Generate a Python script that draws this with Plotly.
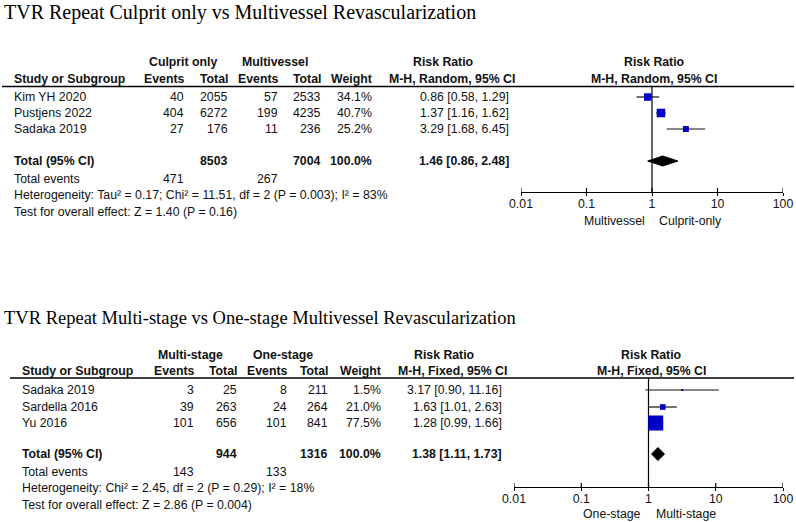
import math
import plotly.graph_objects as go

W, H = 796, 522

# ---------------- data: panel 1 ----------------
P1_TITLE = "TVR Repeat Culprit only vs Multivessel Revascularization"
P1_GROUPS = ["Culprit only", "Multivessel"]
P1_STUDIES = ["Kim YH 2020", "Pustjens 2022", "Sadaka 2019"]
P1_EV1 = [40, 404, 27]
P1_TOT1 = [2055, 6272, 176]
P1_EV2 = [57, 199, 11]
P1_TOT2 = [2533, 4235, 236]
P1_WEIGHT = [34.1, 40.7, 25.2]
P1_RR = [0.86, 1.37, 3.29]
P1_LO = [0.58, 1.16, 1.68]
P1_HI = [1.29, 1.62, 6.45]
P1_TOTAL_N = [8503, 7004]
P1_TOTAL_EVENTS = [471, 267]
P1_POOLED = [1.46, 0.86, 2.48]
P1_METHOD = "M-H, Random, 95% CI"
P1_HET = "Heterogeneity: Tau² = 0.17; Chi² = 11.51, df = 2 (P = 0.003); I² = 83%"
P1_TEST = "Test for overall effect: Z = 1.40 (P = 0.16)"
P1_FAVOURS = ["Multivessel", "Culprit-only"]

# ---------------- data: panel 2 ----------------
P2_TITLE = "TVR Repeat Multi-stage vs One-stage Multivessel Revascularization"
P2_GROUPS = ["Multi-stage", "One-stage"]
P2_STUDIES = ["Sadaka 2019", "Sardella 2016", "Yu 2016"]
P2_EV1 = [3, 39, 101]
P2_TOT1 = [25, 263, 656]
P2_EV2 = [8, 24, 101]
P2_TOT2 = [211, 264, 841]
P2_WEIGHT = [1.5, 21.0, 77.5]
P2_RR = [3.17, 1.63, 1.28]
P2_LO = [0.90, 1.01, 0.99]
P2_HI = [11.16, 2.63, 1.66]
P2_TOTAL_N = [944, 1316]
P2_TOTAL_EVENTS = [143, 133]
P2_POOLED = [1.38, 1.11, 1.73]
P2_METHOD = "M-H, Fixed, 95% CI"
P2_HET = "Heterogeneity: Chi² = 2.45, df = 2 (P = 0.29); I² = 18%"
P2_TEST = "Test for overall effect: Z = 2.86 (P = 0.004)"
P2_FAVOURS = ["One-stage", "Multi-stage"]

TICKS = [0.01, 0.1, 1, 10, 100]
TICK_LABELS = ["0.01", "0.1", "1", "10", "100"]

# ---------------- layout (pixel positions / styles) ----------------
SANS = "Liberation Sans, Arial, sans-serif"
SERIF = "Liberation Serif, Times New Roman, serif"
BLUE = "#0000C8"
FS = 12.3

LAYOUTS = [
    dict(title_y=12, title_fs=20, h1=62, h2=79, rule=86.5, rule_x=(2, 794), rows=[97, 113, 129],
         total=161, events=179, het=195, test=212, axis_y=192, fav_y=221,
         name=12.7, ev1=185, tot1=229, ev2=279, tot2=322, w=373, rr=510, mh=516,
         g1=183, g2=275, rrh=443, fh=654, dom=(521, 783), box=0.53, dia=5,
         fav_dx=(-6, 6)),
    dict(title_y=318, title_fs=18.5, h1=355, h2=371, rule=378, rule_x=(10, 794), rows=[390, 407, 423],
         total=454, events=472, het=488, test=505, axis_y=487, fav_y=514,
         name=21, ev1=195, tot1=238, ev2=288, tot2=329, w=382, rr=503, mh=508,
         g1=190, g2=283, rrh=444, fh=651, dom=(514, 783), box=0.575, dia=6.5,
         fav_dx=(-7, 6)),
]

PANELS = [
    dict(title=P1_TITLE, groups=P1_GROUPS, studies=P1_STUDIES, ev1=P1_EV1, tot1=P1_TOT1,
         ev2=P1_EV2, tot2=P1_TOT2, weight=P1_WEIGHT, rr=P1_RR, lo=P1_LO, hi=P1_HI,
         total_n=P1_TOTAL_N, total_events=P1_TOTAL_EVENTS, pooled=P1_POOLED,
         method=P1_METHOD, het=P1_HET, test=P1_TEST, favours=P1_FAVOURS),
    dict(title=P2_TITLE, groups=P2_GROUPS, studies=P2_STUDIES, ev1=P2_EV1, tot1=P2_TOT1,
         ev2=P2_EV2, tot2=P2_TOT2, weight=P2_WEIGHT, rr=P2_RR, lo=P2_LO, hi=P2_HI,
         total_n=P2_TOTAL_N, total_events=P2_TOTAL_EVENTS, pooled=P2_POOLED,
         method=P2_METHOD, het=P2_HET, test=P2_TEST, favours=P2_FAVOURS),
]

fig = go.Figure()
annotations = []
shapes = []


def ann(text, x, y, anchor="left", size=FS, bold=False, font=SANS, color="#111111"):
    if bold:
        text = "<b>" + text + "</b>"
    annotations.append(dict(
        text=text, x=x / W, y=y, xref="paper", yref="y",
        xanchor=anchor, yanchor="middle", showarrow=False, borderpad=0,
        font=dict(family=font, size=size, color=color)))


def ci_text(est, lo, hi):
    return f"{est:.2f} [{lo:.2f}, {hi:.2f}]"


for i, (P, L) in enumerate(zip(PANELS, LAYOUTS)):
    xa = "x" if i == 0 else "x2"
    # title
    ann(P["title"], 3, L["title_y"], size=L["title_fs"], font=SERIF, color="black")
    # header row 1
    ann(P["groups"][0], L["g1"], L["h1"], "center", bold=True)
    ann(P["groups"][1], L["g2"], L["h1"], "center", bold=True)
    ann("Risk Ratio", L["rrh"], L["h1"], "center", bold=True)
    ann("Risk Ratio", L["fh"], L["h1"], "center", bold=True)
    # header row 2
    ann("Study or Subgroup", L["name"], L["h2"], "left", bold=True)
    ann("Events", L["ev1"], L["h2"], "right", bold=True)
    ann("Total", L["tot1"], L["h2"], "right", bold=True)
    ann("Events", L["ev2"], L["h2"], "right", bold=True)
    ann("Total", L["tot2"], L["h2"], "right", bold=True)
    ann("Weight", L["w"], L["h2"], "right", bold=True)
    ann(P["method"], L["mh"], L["h2"], "right", bold=True)
    ann(P["method"], L["fh"], L["h2"], "center", bold=True)
    # rule
    shapes.append(dict(type="line", xref="paper", yref="y",
                       x0=L["rule_x"][0] / W, x1=L["rule_x"][1] / W,
                       y0=L["rule"], y1=L["rule"], line=dict(color="black", width=1.5)))
    # study rows
    for j, s in enumerate(P["studies"]):
        y = L["rows"][j]
        ann(s, L["name"], y)
        ann(str(P["ev1"][j]), L["ev1"], y, "right")
        ann(str(P["tot1"][j]), L["tot1"], y, "right")
        ann(str(P["ev2"][j]), L["ev2"], y, "right")
        ann(str(P["tot2"][j]), L["tot2"], y, "right")
        ann(f"{P['weight'][j]:.1f}%", L["w"], y, "right")
        ann(ci_text(P["rr"][j], P["lo"][j], P["hi"][j]), L["rr"], y, "right")
    # totals
    ann("Total (95% CI)", L["name"], L["total"], bold=True)
    ann(str(P["total_n"][0]), L["tot1"], L["total"], "right", bold=True)
    ann(str(P["total_n"][1]), L["tot2"], L["total"], "right", bold=True)
    ann(f"{sum(P['weight']):.1f}%", L["w"], L["total"], "right", bold=True)
    ann(ci_text(*P["pooled"]), L["rr"], L["total"], "right", bold=True)
    ann("Total events", L["name"], L["events"])
    ann(str(P["total_events"][0]), L["ev1"], L["events"], "right")
    ann(str(P["total_events"][1]), L["ev2"], L["events"], "right")
    ann(P["het"], L["name"], L["het"])
    ann(P["test"], L["name"], L["test"])

    # ---- forest plot ----
    rows = L["rows"]
    # vertical line of no effect
    fig.add_trace(go.Scatter(x=[1, 1], y=[L["rule"], L["axis_y"]], mode="lines",
                             line=dict(color="black", width=1.2), xaxis=xa, yaxis="y",
                             hoverinfo="skip", showlegend=False))
    # CI lines
    cx, cy = [], []
    for j in range(len(P["studies"])):
        cx += [P["lo"][j], P["hi"][j], None]
        cy += [rows[j], rows[j], None]
    fig.add_trace(go.Scatter(x=cx, y=cy, mode="lines", line=dict(color="#111111", width=1.2),
                             xaxis=xa, yaxis="y", hoverinfo="skip", showlegend=False))
    # boxes sized by weight
    sizes = [max(2.0, L["box"] * w ** 0.75) for w in P["weight"]]
    fig.add_trace(go.Scatter(x=P["rr"], y=rows, mode="markers",
                             marker=dict(symbol="square", size=sizes, color=BLUE,
                                         opacity=1, line=dict(width=0)),
                             xaxis=xa, yaxis="y", showlegend=False))
    # diamond
    est, lo, hi = P["pooled"]
    yt, d = L["total"], L["dia"]
    fig.add_trace(go.Scatter(x=[lo, est, hi, est, lo], y=[yt, yt - d, yt, yt + d, yt],
                             mode="lines", fill="toself", fillcolor="black",
                             line=dict(color="black", width=1),
                             xaxis=xa, yaxis="y", showlegend=False, hoverinfo="skip"))
    # upward tick parts (crossing ticks)
    tx, ty = [], []
    for t in TICKS:
        tx += [t, t, None]
        ty += [L["axis_y"] - 4, L["axis_y"], None]
    fig.add_trace(go.Scatter(x=tx, y=ty, mode="lines", line=dict(color="black", width=1.2),
                             xaxis=xa, yaxis="y", hoverinfo="skip", showlegend=False))
    # favours labels
    for k, anchor in enumerate(["right", "left"]):
        annotations.append(dict(text=P["favours"][k], x=0, y=L["fav_y"], xref=xa, yref="y",
                                xanchor=anchor, yanchor="middle", showarrow=False,
                                xshift=L["fav_dx"][k], borderpad=0,
                                font=dict(family=SANS, size=FS, color="#111111")))

axis_common = dict(type="log", range=[-2, 2], anchor="free", showline=True,
                   linecolor="black", linewidth=1.2, ticks="outside", ticklen=3,
                   tickcolor="black", tickwidth=1.2, tickvals=TICKS, ticktext=TICK_LABELS,
                   ticklabelstandoff=-3,
                   tickfont=dict(family=SANS, size=FS, color="#111111"),
                   showgrid=False, zeroline=False)

fig.update_layout(
    width=W, height=H,
    margin=dict(l=0, r=0, t=0, b=0, pad=0, autoexpand=False),
    paper_bgcolor="white", plot_bgcolor="rgba(0,0,0,0)",
    xaxis=dict(domain=[LAYOUTS[0]["dom"][0] / W, LAYOUTS[0]["dom"][1] / W],
               position=1 - LAYOUTS[0]["axis_y"] / H, **axis_common),
    xaxis2=dict(domain=[LAYOUTS[1]["dom"][0] / W, LAYOUTS[1]["dom"][1] / W],
                position=1 - LAYOUTS[1]["axis_y"] / H, **axis_common),
    yaxis=dict(range=[H, 0], domain=[0, 1], visible=False, fixedrange=True),
    annotations=annotations,
    shapes=shapes,
    showlegend=False,
)

fig.write_html("out.html")
